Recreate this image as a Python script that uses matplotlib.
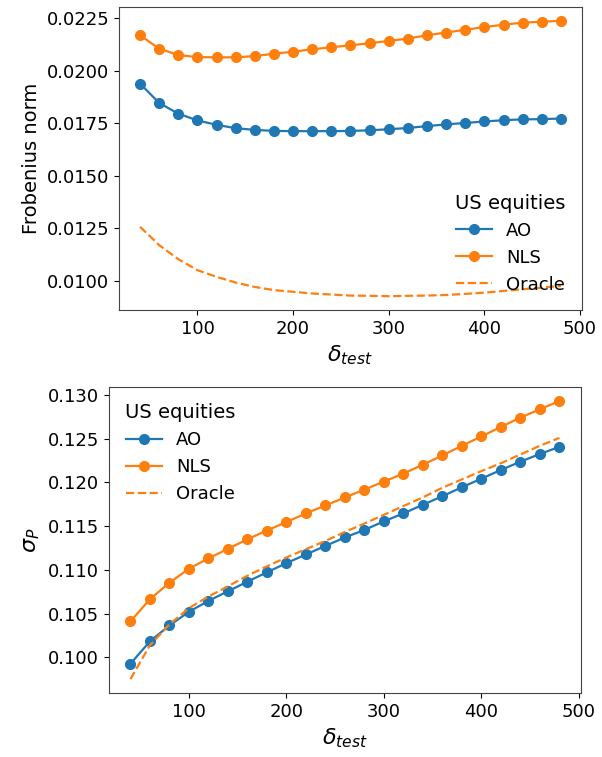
import numpy as np
import matplotlib
matplotlib.use("Agg")
import matplotlib.pyplot as plt

# delta_test grid
delta = [40, 60, 80, 100, 120, 140, 160, 180, 200, 220, 240, 260,
         280, 300, 320, 340, 360, 380, 400, 420, 440, 460, 480]

# top panel: Frobenius norm
frob_ao = [0.01938, 0.01846, 0.01795, 0.01763, 0.01742, 0.01726, 0.01718,
           0.01713, 0.01712, 0.01712, 0.01712, 0.01713, 0.01716, 0.01721,
           0.01727, 0.01736, 0.01744, 0.01751, 0.01758, 0.01764, 0.01768,
           0.01769, 0.01772]
frob_nls = [0.02168, 0.02104, 0.02074, 0.02064, 0.02063, 0.02063, 0.02069,
            0.02080, 0.02090, 0.02101, 0.02111, 0.02120, 0.02130, 0.02141,
            0.02152, 0.02168, 0.02181, 0.02194, 0.02207, 0.02218, 0.02228,
            0.02232, 0.02237]
frob_oracle = [0.01257, 0.01170, 0.01103, 0.01051, 0.01019, 0.00992, 0.00971,
               0.00956, 0.00948, 0.00940, 0.00935, 0.00930, 0.00929, 0.00927,
               0.00929, 0.00930, 0.00933, 0.00938, 0.00944, 0.00952, 0.00960,
               0.00968, 0.00976]

# bottom panel: portfolio volatility
sig_ao = [0.09925, 0.10182, 0.10364, 0.10520, 0.10645, 0.10755, 0.10865,
          0.10972, 0.11077, 0.11176, 0.11274, 0.11371, 0.11457, 0.11555,
          0.11646, 0.11745, 0.11843, 0.11945, 0.12044, 0.12143, 0.12238,
          0.12326, 0.12407]
sig_nls = [0.10410, 0.10664, 0.10853, 0.11013, 0.11131, 0.11240, 0.11350,
           0.11450, 0.11547, 0.11646, 0.11737, 0.11828, 0.11919, 0.12010,
           0.12101, 0.12204, 0.12309, 0.12420, 0.12526, 0.12636, 0.12742,
           0.12837, 0.12932]
sig_oracle = [0.09750, 0.10137, 0.10376, 0.10562, 0.10694, 0.10812, 0.10933,
              0.11040, 0.11142, 0.11237, 0.11331, 0.11434, 0.11530, 0.11630,
              0.11730, 0.11830, 0.11940, 0.12035, 0.12130, 0.12220, 0.12320,
              0.12420, 0.12510]

blue = '#1f77b4'
orange = '#ff7f0e'

plt.rcParams['font.size'] = 13

fig = plt.figure(figsize=(6.02, 7.57), dpi=100)
ax1 = fig.add_axes([0.1977, 0.5905, 0.769, 0.4003])
ax2 = fig.add_axes([0.181, 0.0845, 0.784, 0.4042])

ax1.plot(delta, frob_ao, 'o-', color=blue, ms=7, lw=1.6, label='AO')
ax1.plot(delta, frob_nls, 'o-', color=orange, ms=7, lw=1.6, label='NLS')
ax1.plot(delta, frob_oracle, '--', color=orange, lw=1.6, label='Oracle')
ax1.set_yticks([0.0100, 0.0125, 0.0150, 0.0175, 0.0200, 0.0225])
ax1.set_xticks([100, 200, 300, 400, 500])
ax1.set_xlabel(r'$\delta_{test}$', fontsize=16)
ax1.set_ylabel('Frobenius norm', fontsize=14)
ax1.legend(title='US equities', loc='lower right', frameon=False,
           fontsize=13, title_fontsize=14)

ax2.plot(delta, sig_ao, 'o-', color=blue, ms=7, lw=1.6, label='AO')
ax2.plot(delta, sig_nls, 'o-', color=orange, ms=7, lw=1.6, label='NLS')
ax2.plot(delta, sig_oracle, '--', color=orange, lw=1.6, label='Oracle')
ax2.set_yticks([0.100, 0.105, 0.110, 0.115, 0.120, 0.125, 0.130])
ax2.set_xticks([100, 200, 300, 400, 500])
ax2.set_xlabel(r'$\delta_{test}$', fontsize=16)
ax2.set_ylabel(r'$\sigma_P$', fontsize=16)
ax2.legend(title='US equities', loc='upper left', frameon=False,
           fontsize=13, title_fontsize=14)

for ax in (ax1, ax2):
    for s in ax.spines.values():
        s.set_color('#444444')

fig.savefig('out.png', dpi=100)
